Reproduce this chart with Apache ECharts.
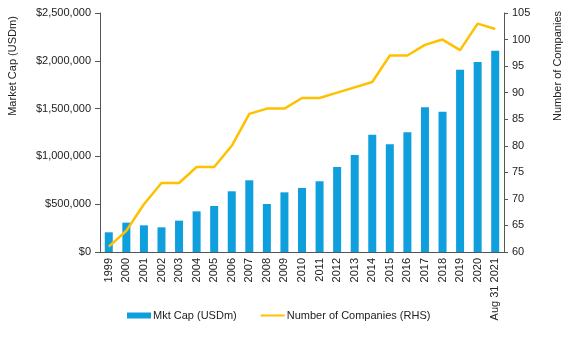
<!DOCTYPE html>
<html><head><meta charset="utf-8">
<script src="https://cdn.jsdelivr.net/npm/echarts@6/dist/echarts.min.js"></script>
<style>html,body{margin:0;padding:0;background:#fff}#c{width:565px;height:345px}</style>
</head><body><div id="c"></div>
<script>
var categories = ['1999','2000','2001','2002','2003','2004','2005','2006','2007','2008','2009','2010','2011','2012','2013','2014','2015','2016','2017','2018','2019','2020','Aug 31 2021'];
var mktCap = [206000,307000,279000,258000,328000,425000,481000,635000,750000,502000,624000,670000,740000,889000,1015000,1227000,1126000,1252000,1513000,1468000,1907000,1987000,2105000];
var companies = [61,64,69,73,73,76,76,80,86,87,87,89,89,90,91,92,97,97,99,100,98,103,102];
var leftTicks = [0,500000,1000000,1500000,2000000,2500000];

var font = 'Liberation Sans, Arial, sans-serif';
var axisCol = '#555';
function fmt(v){ return '$' + v.toString().replace(/\B(?=(\d{3})+(?!\d))/g, ','); }
var chart = echarts.init(document.getElementById('c'), null, {renderer:'canvas'});
chart.setOption({
  animation:false,
  textStyle:{fontFamily:font},
  grid:{left:100,right:61,top:13,bottom:93,containLabel:false,outerBoundsMode:'none'},
  legend:{
    top:305,left:122,itemWidth:24,itemHeight:6,itemGap:23,
    textStyle:{fontFamily:font,fontSize:11,color:'#222',padding:[0,0,0,-3]},
    data:[{name:'Mkt Cap (USDm)',icon:'rect'},{name:'Number of Companies (RHS)',itemStyle:{opacity:0}}]
  },
  xAxis:{
    type:'category',data:categories,
    axisLine:{lineStyle:{color:axisCol}},
    axisTick:{show:false},
    axisLabel:{rotate:90,fontFamily:font,fontSize:11,color:'#222',interval:0,margin:6}
  },
  yAxis:[{
    type:'value',min:0,max:2500000,interval:500000,
    name:'Market Cap (USDm)',nameLocation:'middle',nameGap:82,nameRotate:90,
    nameTextStyle:{fontFamily:font,fontSize:11,color:'#222',padding:[0,0,0,133]},
    axisLine:{show:true,lineStyle:{color:axisCol}},
    axisTick:{show:true,length:5,lineStyle:{color:axisCol}},
    splitLine:{show:false},
    axisLabel:{fontFamily:font,fontSize:11,color:'#222',margin:9,formatter:function(v){return fmt(v);}}
  },{
    type:'value',min:60,max:105,interval:5,position:'right',
    name:'Number of Companies',nameLocation:'middle',nameGap:48,nameRotate:90,
    nameTextStyle:{fontFamily:font,fontSize:11,color:'#222',padding:[0,0,0,133]},
    axisLine:{show:true,lineStyle:{color:axisCol}},
    axisTick:{show:true,length:4,lineStyle:{color:axisCol}},
    splitLine:{show:false},
    axisLabel:{fontFamily:font,fontSize:11,color:'#222',margin:8}
  }],
  series:[{
    name:'Mkt Cap (USDm)',type:'bar',data:mktCap,barWidth:8,
    itemStyle:{color:'#0F9FDC'}
  },{
    name:'Number of Companies (RHS)',type:'line',yAxisIndex:1,data:companies,
    symbol:'none',lineStyle:{color:'#FFC000',width:2.5},itemStyle:{color:'#FFC000'}
  }]
});
</script></body></html>
